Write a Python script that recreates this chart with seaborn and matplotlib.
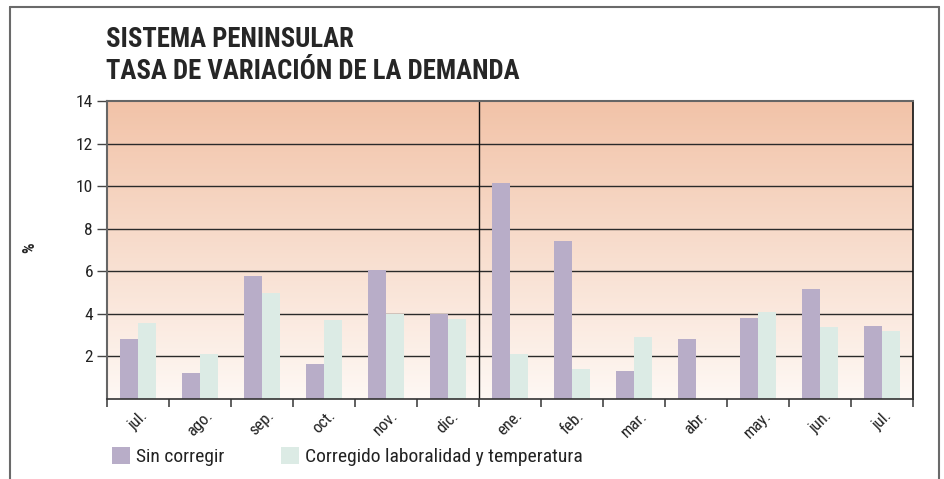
import numpy as np
import pandas as pd
import matplotlib
matplotlib.use("Agg")
import matplotlib.pyplot as plt
import seaborn as sns
from matplotlib.lines import Line2D

months = ["jul.", "ago.", "sep.", "oct.", "nov.", "dic.", "ene.", "feb.", "mar.", "abr.", "may.", "jun.", "jul."]
sin_corregir = [2.82, 1.22, 5.77, 1.64, 6.06, 4.00, 10.14, 7.42, 1.31, 2.82, 3.80, 5.16, 3.43]
corregido = [3.57, 2.11, 4.98, 3.71, 4.00, 3.76, 2.11, 1.41, 2.91, np.nan, 4.08, 3.38, 3.19]
series_names = ["Sin corregir", "Corregido laboralidad y temperatura"]
y_ticks = [2, 4, 6, 8, 10, 12, 14]

sns.set_theme(style="white")
plt.rcParams['font.family'] = ['Roboto Condensed', 'Archivo Narrow', 'DejaVu Sans']

df = pd.DataFrame({
    "pos": list(range(len(months))) * 2,
    "valor": sin_corregir + corregido,
    "serie": [series_names[0]] * len(months) + [series_names[1]] * len(months),
})

fig = plt.figure(figsize=(9.45, 4.79), dpi=100)
W, H = 945, 479
ax = fig.add_axes([107 / W, 1 - 399 / H, (913 - 107) / W, (399 - 101) / H])

# gradient background
grad = np.linspace(0, 1, 256).reshape(-1, 1)
top = np.array([0xF2, 0xC3, 0xA8]) / 255
bot = np.array([0xFE, 0xF8, 0xF4]) / 255
img = bot + (top - bot) * grad
ax.imshow(img[:, None, :].repeat(2, axis=1), extent=[-0.5, 12.5, 0, 14], origin="lower",
          aspect="auto", zorder=0)

palette = {series_names[0]: "#B8ADC8", series_names[1]: "#DCEBE5"}
sns.barplot(data=df, x="pos", y="valor", hue="serie", hue_order=series_names,
            palette=palette, width=0.57, gap=0, dodge=True, saturation=1,
            linewidth=0, ax=ax, zorder=3, legend=True)

ax.set_xlim(-0.5, 12.5)
ax.set_ylim(0, 14)
ax.set_yticks(y_ticks)
ax.set_yticklabels([str(t) for t in y_ticks], fontsize=12.5, color="#222222")
for t in y_ticks[:-1]:
    ax.axhline(t, color="#2a2a2a", lw=1.0, zorder=2)
ax.axvline(5.5, color="#111111", lw=1.0, zorder=4)

ax.set_xticks(range(len(months)))
ax.set_xticklabels(months, rotation=45, ha="center", va="top", fontsize=12, color="#222222")
ax.set_xticks(np.arange(-0.5, 13, 1), minor=True)
ax.tick_params(axis="x", which="major", length=0, pad=6.5)
ax.tick_params(axis="x", which="minor", length=6, width=1.2, color="#444444", direction="out", bottom=True)
ax.tick_params(axis="y", length=7, width=1.0, color="#444444", direction="out", left=True, pad=3)
ax.set_xlabel("")
ax.set_ylabel("")

for s in ["left", "top"]:
    ax.spines[s].set_color("#666666")
    ax.spines[s].set_linewidth(1.5)
ax.spines["right"].set_color("#111111")
ax.spines["right"].set_linewidth(1.2)
ax.spines["bottom"].set_color("#333333")
ax.spines["bottom"].set_linewidth(1.2)
for s in ax.spines.values():
    s.set_zorder(5)

leg = ax.legend(loc="lower left", bbox_to_anchor=(104 / W, 5 / H), bbox_transform=fig.transFigure,
                ncol=2, frameon=False, fontsize=14, handlelength=0.95, handleheight=0.95,
                handletextpad=0.3, columnspacing=2.9, borderaxespad=0)
for h in leg.legend_handles:
    h.set_edgecolor("none")
for t in leg.get_texts():
    t.set_color("#222222")

fig.text(30 / W, 1 - 248 / H, "%", rotation=90, fontsize=12, fontweight="bold",
         ha="center", va="center")
fig.text(106 / W, 1 - 26 / H, "SISTEMA PENINSULAR", fontsize=19.3, fontweight="bold",
         ha="left", va="top")
fig.text(106 / W, 1 - 58 / H, "TASA DE VARIACIÓN DE LA DEMANDA", fontsize=19.3, fontweight="bold",
         ha="left", va="top")

# outer frame (open at bottom)
fx0, fx1, fy = 10 / W, 939 / W, 1 - 7 / H
for xs, ys in [([fx0, fx0], [0, fy]), ([fx0, fx1], [fy, fy]), ([fx1, fx1], [fy, 0])]:
    fig.add_artist(Line2D(xs, ys, transform=fig.transFigure, color="#6a6a6a", lw=1.5))

fig.savefig("out.png", dpi=100)
